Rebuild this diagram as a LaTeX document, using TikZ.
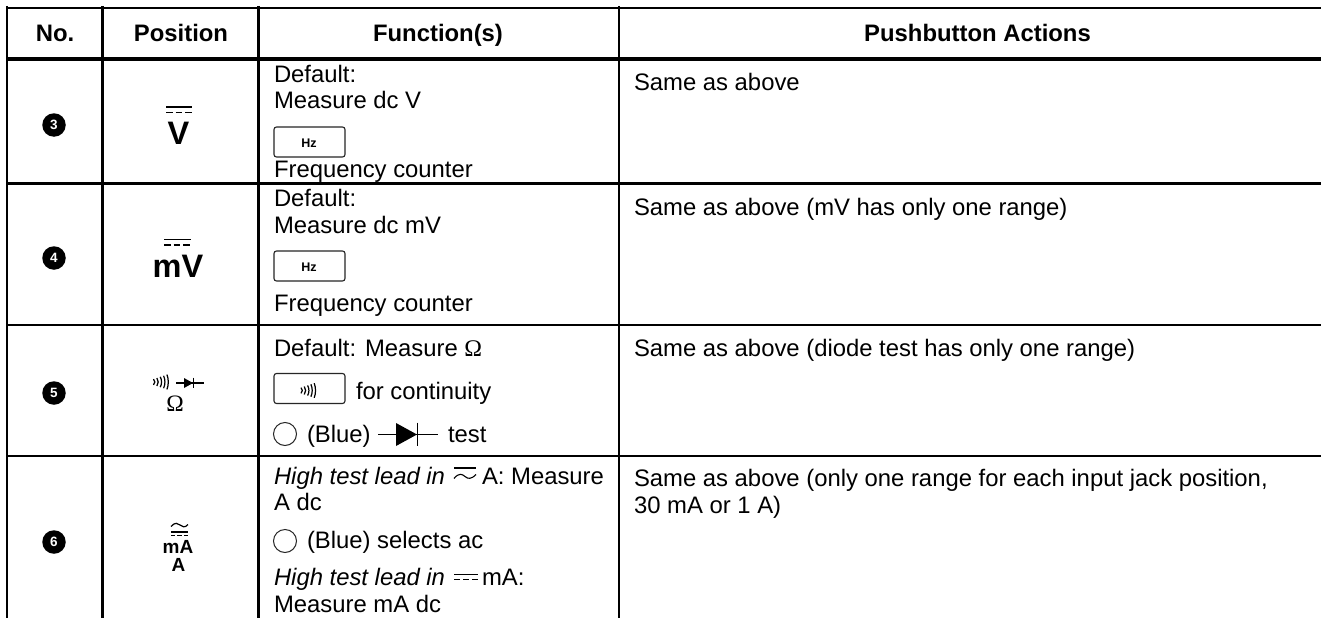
\documentclass[tikz,border=0pt]{standalone}
\usepackage{fontspec}
\setmainfont{Liberation Sans}
\newfontfamily\serifsym{Liberation Serif}
\newcommand{\bodysz}{\fontsize{23.85}{26}\selectfont}
\tikzset{
  x=1pt,y=-1pt,
  txt/.style={anchor=base west,inner sep=0pt,outer sep=0pt,font=\bodysz},
  head/.style={anchor=base,inner sep=0pt,outer sep=0pt,font=\bodysz\bfseries},
  rule/.style={line width=2.3pt,black},
  btn/.style={draw=black!85,line width=1.1pt,rounded corners=2.5pt},
  badge/.style={circle,fill=black,text=white,inner sep=0pt,minimum size=23.5pt,font=\fontsize{13.5}{14}\selectfont\bfseries},
  keycap/.style={anchor=center,inner sep=0pt,font=\fontsize{12.5}{14}\selectfont\bfseries},
  sym/.style={anchor=base,inner sep=0pt,font=\fontsize{32.5}{34}\selectfont\bfseries},
  symsmall/.style={anchor=base,inner sep=0pt,font=\fontsize{19}{20}\selectfont\bfseries},
}
% beeper glyph: five arcs growing to the right, from centre (#1,#2), scale #3
\newcommand{\beepglyph}[3]{%
  \begin{scope}[shift={(#1,#2)},line width=1.1pt*#3]
    \foreach \dx/\h in {0/2.6,3/3.6,6/4.6,9/5.6,12/6.6}
      \draw (#3*\dx,-#3*\h) .. controls (#3*\dx+#3*1.6,-#3*\h*0.4) and (#3*\dx+#3*1.6,#3*\h*0.4) .. (#3*\dx,#3*\h);
  \end{scope}}
% diode glyph from x=#1 to x=#2, centre height #3, half height #4, triangle from #5 to #6
\newcommand{\diodeglyph}[7]{%
  \draw[line width=#7] (#1,#3) -- (#2,#3);
  \fill (#5,#3-#4) -- (#6,#3) -- (#5,#3+#4) -- cycle;
  \draw[line width=#7] (#6+0.6,#3-#4-0.3) -- (#6+0.6,#3+#4+0.3);}
% dc mark: solid line over dashes
\newcommand{\dcmark}[5]{%
  \draw[line width=#5] (#1,#3) -- (#2,#3);
  \draw[line width=#5,dash pattern=on 6.7pt off 3pt] (#1,#4) -- (#2,#4);}
\begin{document}
\begin{tikzpicture}
\useasboundingbox (0,0) rectangle (1321,618);
\fill[white] (0,0) rectangle (1321,618);
% rules
\foreach \yy in {8,183.5,325,455.8} \draw[rule] (6,\yy) -- (1321,\yy);
\draw[black,line width=4.2pt] (6,58.8) -- (1321,58.8);
\foreach \xx in {7,102.7,258.5,619} \draw[rule,line width=2.6pt] (\xx,6) -- (\xx,618);
% header
\node[head] (h1) at (55,41.5) {No.};
\node[head] (h2) at (181,41.5) {Position};
\node[head] (h3) at (438,41.5) {Function(s)};
\node[head] (h4) at (977.5,41.5) {Pushbutton Actions};
% badges
\node[badge] (b3) at (54,125) {3};
\node[badge] (b4) at (54,258) {4};
\node[badge] (b5) at (54,393) {5};
\node[badge] (b6) at (54,542) {6};
% position column
\dcmark{166}{192}{107}{112.5}{1.8pt}
\node[sym] (p3) at (178.5,144) {V};
\dcmark{164}{191}{239.5}{245}{1.8pt}
\node[sym] (p4) at (178,277) {mV};
\beepglyph{153.5}{382}{1.12}
\diodeglyph{176}{203.5}{383}{5}{184}{193}{1.3pt}
\node[anchor=base,inner sep=0pt,font=\fontsize{23.5}{24}\selectfont] (p5) at (175,411) {\serifsym Ω};
\draw[line width=1.2pt] (171,526.5) .. controls (175,522) and (178,523) .. (180,525) .. controls (182,527) and (185,528) .. (188,524.5);
\draw[line width=1.1pt] (171,532) -- (188,532);
\draw[line width=1.1pt,dash pattern=on 4.2pt off 2.2pt] (171,535.5) -- (188,535.5);
\node[symsmall] (p6a) at (178,553) {mA};
\node[symsmall] (p6b) at (178.5,571) {A};
% functions, row 3
\node[txt] (f3a) at (274,82) {Default:};
\node[txt] (f3b) at (274,108) {Measure dc V};
\draw[btn] (274,127) rectangle (345,157);
\node[keycap] (k3) at (309,143) {Hz};
\node[txt] (f3c) at (274,177) {Frequency counter};
% row 4
\node[txt] (f4a) at (274,206) {Default:};
\node[txt] (f4b) at (274,233) {Measure dc mV};
\draw[btn] (274,251) rectangle (345,281);
\node[keycap] (k4) at (309,267) {Hz};
\node[txt] (f4c) at (274,311) {Frequency counter};
% row 5
\node[txt] (f5a) at (274,356) {Default: Measure {\serifsym Ω}};
\draw[btn] (274,373.5) rectangle (345,403.5);
\beepglyph{301}{390.5}{1.1}
\node[txt] (f5b) at (356,399) {for continuity};
\draw[line width=1pt,black!85] (285,434) circle (11.5);
\node[txt] (f5c) at (307,442) {(Blue)};
\diodeglyph{378}{438}{434.5}{11.5}{396}{417}{1.5pt}
\node[txt] (f5d) at (448,442) {test};
% row 6
\node[txt] (f6a) at (274,484) {\itshape High test lead in};
\draw[line width=1.1pt] (454,468) -- (476,468);
\draw[line width=1.1pt] (454,478.5) .. controls (459,472.5) and (462,474) .. (465,476.5) .. controls (468,479) and (471,479.5) .. (476,474.5);
\node[txt] (f6b) at (482,484) {A: Measure};
\node[txt] (f6c) at (274,510) {A dc};
\draw[line width=1pt,black!85] (285,541) circle (11.5);
\node[txt] (f6d) at (307,548) {(Blue) selects ac};
\node[txt] (f6e) at (274,585) {\itshape High test lead in};
\draw[line width=1pt] (454,574.5) -- (478,574.5);
\draw[line width=1pt,dash pattern=on 6pt off 3pt] (454,579) -- (478,579);
\node[txt] (f6f) at (482,585) {mA:};
\node[txt] (f6g) at (274,612) {Measure mA dc};
% actions
\node[txt] (a3) at (634,90) {Same as above};
\node[txt] (a4) at (634,215) {Same as above (mV has only one range)};
\node[txt] (a5) at (634,356) {Same as above (diode test has only one range)};
\node[txt] (a6a) at (634,486) {Same as above (only one range for each input jack position,};
\node[txt] (a6b) at (634,513) {30 mA or 1 A)};
\end{tikzpicture}
\end{document}
